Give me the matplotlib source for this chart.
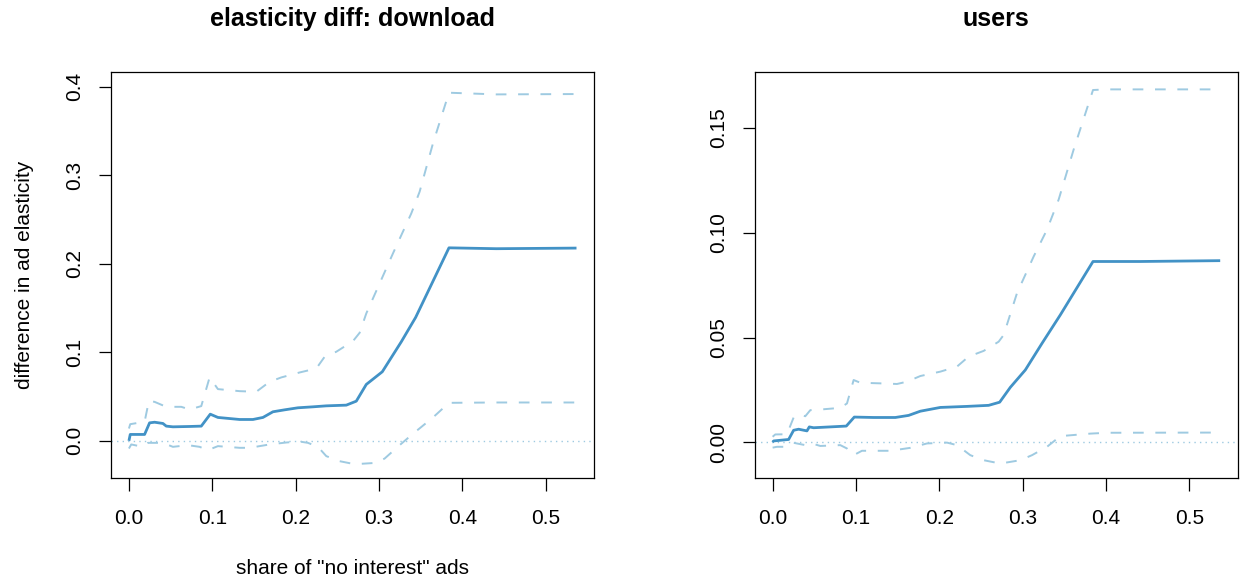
import matplotlib
matplotlib.use("Agg")
import matplotlib.pyplot as plt

plt.rcParams['font.family'] = ['Liberation Sans', 'DejaVu Sans']

# ---------------- data: left panel (download) ----------------
dl_est_x = [0.0, 0.0016, 0.0188, 0.0248, 0.0308, 0.0408, 0.0448, 0.0528, 0.0728, 0.0868,
            0.0976, 0.1068, 0.1328, 0.1488, 0.1608, 0.1728, 0.1868, 0.2028, 0.2208, 0.2368,
            0.2608, 0.2728, 0.2848, 0.304, 0.3268, 0.344, 0.384, 0.4408, 0.537]
dl_est_y = [0.0, 0.0072, 0.0072, 0.0203, 0.021, 0.0196, 0.0166, 0.0158, 0.0162, 0.0166,
            0.0301, 0.0264, 0.0241, 0.0241, 0.0264, 0.0328, 0.035, 0.0373, 0.0384, 0.0395,
            0.0403, 0.0448, 0.0637, 0.078, 0.1119, 0.1394, 0.218, 0.217, 0.2177]

dl_hi_x = [0.0, 0.0016, 0.0188, 0.024, 0.0308, 0.0448, 0.0628, 0.0728, 0.0868, 0.0968,
           0.1068, 0.1328, 0.1528, 0.1688, 0.1828, 0.2048, 0.2248, 0.2348, 0.2488, 0.2688,
           0.2768, 0.2848, 0.3008, 0.3168, 0.3388, 0.3488, 0.3648, 0.384, 0.4408, 0.537]
dl_hi_y = [0.0139, 0.0188, 0.0215, 0.0452, 0.044, 0.0384, 0.0384, 0.0354, 0.0392, 0.0716,
           0.0584, 0.0561, 0.0554, 0.0667, 0.0716, 0.0772, 0.0817, 0.0949, 0.1006, 0.1126,
           0.122, 0.1439, 0.1778, 0.2117, 0.2569, 0.2814, 0.336, 0.3932, 0.3913, 0.3917]

dl_lo_x = [0.0, 0.0028, 0.0168, 0.0228, 0.0408, 0.0528, 0.0708, 0.0848, 0.0948, 0.1068,
           0.1328, 0.1448, 0.1688, 0.1888, 0.2048, 0.2148, 0.2268, 0.2368, 0.2528, 0.2708,
           0.2968, 0.3068, 0.3248, 0.3388, 0.3648, 0.384, 0.4408, 0.537]
dl_lo_y = [-0.0087, -0.0041, -0.0068, -0.0023, -0.0023, -0.0068, -0.0049, -0.0068, -0.0105, -0.006,
           -0.0079, -0.0079, -0.0041, -0.0019, -0.0008, -0.0023, -0.0068, -0.0173, -0.023, -0.0264,
           -0.0249, -0.02, -0.0049, 0.0064, 0.0264, 0.0429, 0.0433, 0.0433]

# ---------------- data: right panel (users) ----------------
us_est_x = [0.0, 0.0012, 0.0192, 0.0252, 0.0312, 0.0412, 0.044, 0.0492, 0.0884, 0.098,
            0.1212, 0.1472, 0.1632, 0.1772, 0.2012, 0.2332, 0.2592, 0.2724, 0.2852, 0.3032,
            0.3232, 0.3452, 0.3844, 0.4412, 0.537]
us_est_y = [0.0, 0.0006, 0.0013, 0.0057, 0.0062, 0.0054, 0.0073, 0.0069, 0.0077, 0.012,
            0.0118, 0.0118, 0.0128, 0.0148, 0.0166, 0.0171, 0.0176, 0.0191, 0.0262, 0.0345,
            0.0472, 0.0608, 0.0863, 0.0863, 0.0867]

us_hi_x = [0.0, 0.0032, 0.0172, 0.0252, 0.0312, 0.0392, 0.0452, 0.0572, 0.0812, 0.0892,
           0.0972, 0.1052, 0.1292, 0.1492, 0.1612, 0.1772, 0.2012, 0.2212, 0.2352, 0.2532,
           0.2712, 0.2772, 0.2932, 0.3132, 0.3292, 0.3432, 0.3612, 0.3844, 0.4012, 0.537]
us_hi_y = [0.0026, 0.0037, 0.0038, 0.0118, 0.0134, 0.0124, 0.0153, 0.0156, 0.0164, 0.0185,
           0.0297, 0.0284, 0.0281, 0.0278, 0.0289, 0.0316, 0.0337, 0.0361, 0.0409, 0.0436,
           0.048, 0.0512, 0.0712, 0.0887, 0.1015, 0.1159, 0.1398, 0.1682, 0.1685, 0.1685]

us_lo_x = [0.0, 0.0052, 0.0172, 0.0252, 0.0392, 0.0472, 0.0572, 0.0812, 0.0892, 0.0972,
           0.1072, 0.1412, 0.1652, 0.1852, 0.2092, 0.2212, 0.2372, 0.2532, 0.2732, 0.2972,
           0.3112, 0.3292, 0.3452, 0.3812, 0.4012, 0.537]
us_lo_y = [-0.0026, -0.0022, -0.0022, -0.0003, -0.0014, -0.0006, -0.0018, -0.0014, -0.003, -0.0062,
           -0.0041, -0.0041, -0.0027, -0.0006, -0.0002, -0.0014, -0.0062, -0.0086, -0.0102, -0.0086,
           -0.0062, -0.0022, 0.0029, 0.0041, 0.0045, 0.0046]

titles = ["elasticity diff: download", "users"]
xlabel = 'share of "no interest" ads'
ylabel = "difference in ad elasticity"
x_ticks = [0.0, 0.1, 0.2, 0.3, 0.4, 0.5]
x_ticklabels = ["0.0", "0.1", "0.2", "0.3", "0.4", "0.5"]
left_yticks = [0.0, 0.1, 0.2, 0.3, 0.4]
left_yticklabels = ["0.0", "0.1", "0.2", "0.3", "0.4"]
right_yticks = [0.0, 0.05, 0.10, 0.15]
right_yticklabels = ["0.00", "0.05", "0.10", "0.15"]

C_EST = "#4292c6"
C_CI = "#9ecae1"

W, H = 1243, 583
fig = plt.figure(figsize=(W / 100, H / 100), dpi=100)

def px_axes(l, r, t, b):
    return fig.add_axes([l / W, (H - b) / H, (r - l) / W, (b - t) / H])

axL = px_axes(111, 594, 72, 478)
axR = px_axes(754.7, 1237.7, 72, 478)

panels = [
    (axL, dl_est_x, dl_est_y, dl_hi_x, dl_hi_y, dl_lo_x, dl_lo_y,
     (-0.042, 0.4166), left_yticks, left_yticklabels),
    (axR, us_est_x, us_est_y, us_hi_x, us_hi_y, us_lo_x, us_lo_y,
     (-0.0171, 0.1768), right_yticks, right_yticklabels),
]

for ax, ex, ey, hx, hy, lx, ly, ylim, yt, ytl in panels:
    ax.axhline(0, color=C_CI, lw=1.0, linestyle=(0, (1, 3)), zorder=1)
    ax.plot(hx, hy, color=C_CI, lw=1.4, linestyle=(0, (5.5, 6)), zorder=2)
    ax.plot(lx, ly, color=C_CI, lw=1.4, linestyle=(0, (5.5, 6)), zorder=2)
    ax.plot(ex, ey, color=C_EST, lw=2.0, zorder=3, solid_capstyle='butt')
    ax.set_xlim(-0.0215, 0.558)
    ax.set_ylim(*ylim)
    ax.set_xticks(x_ticks)
    ax.set_xticklabels(x_ticklabels)
    ax.set_yticks(yt)
    ax.set_yticklabels(ytl, rotation=90, va='center')
    ax.tick_params(axis='both', direction='out', length=9, width=0.9,
                   labelsize=15, colors='black')
    ax.tick_params(axis='x', pad=13)
    ax.tick_params(axis='y', pad=10)
    for s in ax.spines.values():
        s.set_linewidth(0.9)
        s.set_color('black')

fig.text(352.5 / W, 1 - 19 / H, titles[0], ha='center', va='center',
         fontsize=18, fontweight='bold')
fig.text(996 / W, 1 - 19 / H, titles[1], ha='center', va='center',
         fontsize=18, fontweight='bold')
fig.text(352.5 / W, 1 - 568 / H, xlabel, ha='center', va='center', fontsize=15)
fig.text(25 / W, 1 - 275 / H, ylabel, ha='center', va='center', fontsize=15,
         rotation=90)

fig.savefig("out.png", dpi=100)
